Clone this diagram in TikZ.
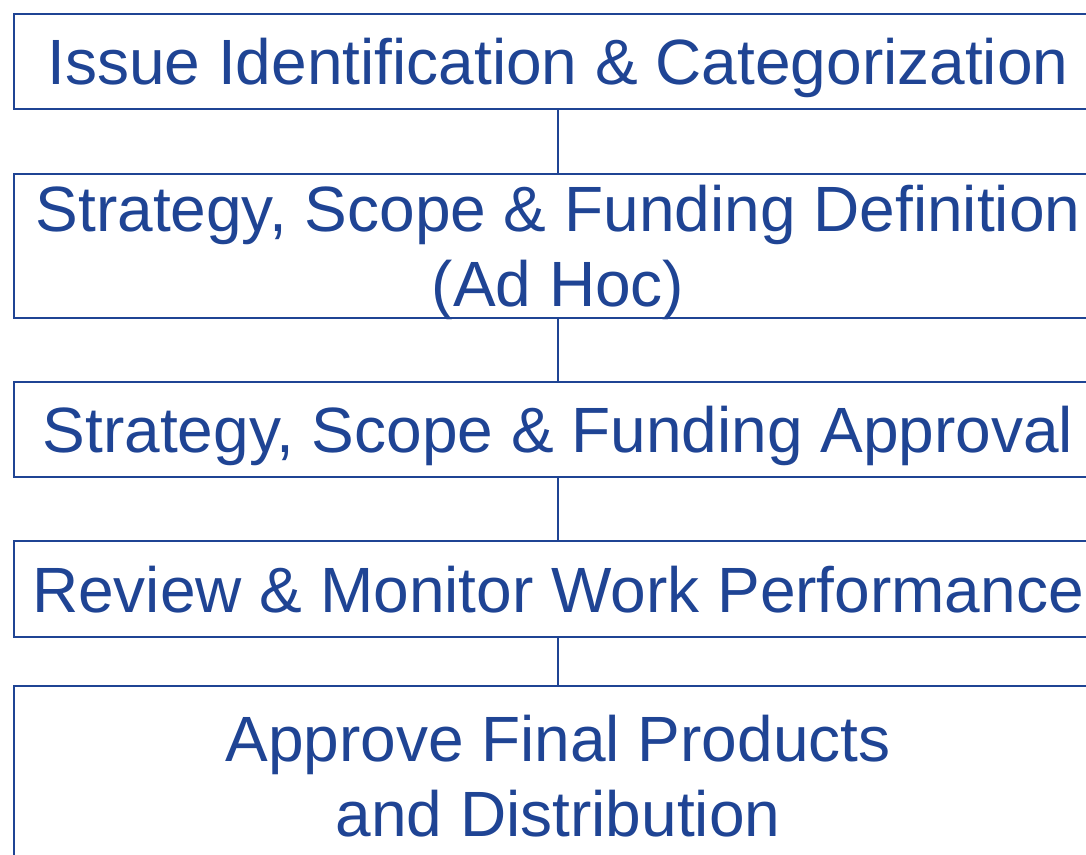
\documentclass[tikz,border=0pt]{standalone}
\usepackage{fontspec}
\setmainfont{Liberation Sans}
\definecolor{stageblue}{RGB}{31,68,148}
\tikzset{
  stage/.style={draw=stageblue, line width=2pt, text=stageblue, fill=white,
    minimum width=1089pt, align=center, inner sep=0pt, text depth=0pt,
    font=\fontsize{64}{75}\selectfont},
  link/.style={draw=stageblue, line width=2pt}
}
\begin{document}
\begin{tikzpicture}[x=1pt,y=-1pt]
\useasboundingbox (0,0) rectangle (1086,854);
\clip (0,0) rectangle (1086,854);

\node[stage, minimum height=95pt] (issue) at (558,61.5) {Issue Identification \& Categorization};
\node[stage, minimum height=144pt] (define) at (558,246) {Strategy, Scope \& Funding Definition\\(Ad Hoc)};
\node[stage, minimum height=95pt] (approve) at (558,429.5) {Strategy, Scope \& Funding Approval};
\node[stage, minimum height=96pt] (review) at (558,589) {Review \& Monitor Work Performance};
\node[stage, minimum height=180pt] (final) at (558,776) {Approve Final Products\\and Distribution};

\draw[link] (issue) -- (define);
\draw[link] (define) -- (approve);
\draw[link] (approve) -- (review);
\draw[link] (review) -- (final);
\end{tikzpicture}
\end{document}
